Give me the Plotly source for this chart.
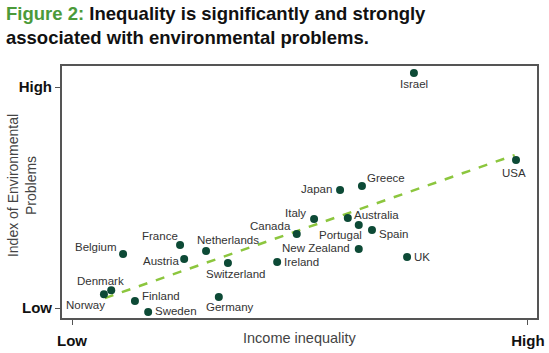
import plotly.graph_objects as go

countries = ["Israel", "USA", "Greece", "Japan", "Italy", "Australia", "Portugal", "Spain",
             "Canada", "New Zealand", "Ireland", "UK", "Belgium", "France", "Netherlands",
             "Austria", "Switzerland", "Denmark", "Norway", "Finland", "Sweden", "Germany"]
income = [0.750, 0.974, 0.636, 0.588, 0.531, 0.605, 0.629, 0.658,
          0.493, 0.629, 0.450, 0.735, 0.112, 0.237, 0.294,
          0.246, 0.342, 0.086, 0.070, 0.138, 0.167, 0.322]
env = [1.063, 0.670, 0.552, 0.534, 0.403, 0.407, 0.376, 0.353,
       0.335, 0.267, 0.208, 0.231, 0.244, 0.285, 0.258,
       0.222, 0.204, 0.081, 0.063, 0.032, -0.018, 0.050]
trend_x = [0.072, 0.971]
trend_y = [0.045, 0.692]
tick_vals = [0, 1]
tick_text = ["Low", "High"]

# label placement: (xanchor, yanchor, xshift, yshift)
label_pos = {
    "Israel": ("center", "middle", 0, -11),
    "USA": ("center", "middle", -2, -13),
    "Greece": ("left", "middle", 3, 8),
    "Japan": ("right", "middle", -6, 1),
    "Italy": ("right", "middle", -6, 6),
    "Australia": ("left", "middle", 4, 3),
    "Portugal": ("right", "middle", 5, -10),
    "Spain": ("left", "middle", 5, -4),
    "Canada": ("right", "middle", -4, 8),
    "New Zealand": ("right", "middle", -7, 1),
    "Ireland": ("left", "middle", 5, 0),
    "UK": ("left", "middle", 5, 0),
    "Belgium": ("right", "middle", -4, 7),
    "France": ("right", "middle", 0, 9),
    "Netherlands": ("left", "middle", -11, 11),
    "Austria": ("right", "middle", -3, -2),
    "Switzerland": ("center", "middle", 8, -11),
    "Denmark": ("center", "middle", -11, 9),
    "Norway": ("right", "middle", 3, -11),
    "Finland": ("left", "middle", 5, 5),
    "Sweden": ("left", "middle", 5, 1),
    "Germany": ("center", "middle", 11, -10),
}

FONT = "Liberation Sans, Arial"

fig = go.Figure()
fig.add_trace(go.Scatter(x=trend_x, y=trend_y, mode="lines",
                         line=dict(color="#8cc63e", width=2.5, dash="dash"),
                         hoverinfo="skip", showlegend=False))
fig.add_trace(go.Scatter(x=income, y=env, mode="markers",
                         marker=dict(color="#0d4a36", size=8),
                         showlegend=False))

annotations = []
for c, xv, yv in zip(countries, income, env):
    xa, ya, xs, ys = label_pos[c]
    annotations.append(dict(x=xv, y=yv, xref="x", yref="y", text=c, showarrow=False,
                            xanchor=xa, yanchor=ya, xshift=xs, yshift=ys,
                            font=dict(family=FONT, size=11.5, color="#333333")))

# Title (placed above the plot area)
annotations.append(dict(
    x=-0.122, y=1.258, xref="paper", yref="paper", xanchor="left", yanchor="top",
    align="left", showarrow=False,
    text="<b><span style='color:#4b9a3a'>Figure 2:</span> Inequality is significantly and strongly<br>associated with environmental problems.</b>",
    font=dict(family=FONT, size=18.5, color="#111111")))

# Y axis title
annotations.append(dict(x=-0.084, y=0.524, xref="paper", yref="paper",
                        text="Index of Environmental<br>Problems", textangle=-90, showarrow=False,
                        font=dict(family=FONT, size=14, color="#444444"),
                        xanchor="center", yanchor="middle"))
# X axis title
annotations.append(dict(x=0.5, y=-0.079, xref="paper", yref="paper",
                        text="Income inequality", showarrow=False,
                        font=dict(family=FONT, size=14.5, color="#444444"),
                        xanchor="center", yanchor="middle"))

fig.update_layout(
    width=549, height=353,
    margin=dict(l=62, r=12, t=66, b=35),
    paper_bgcolor="white", plot_bgcolor="white",
    annotations=annotations,
    xaxis=dict(range=[-0.022, 1.020], tickvals=tick_vals, ticktext=tick_text, automargin=False,
               ticks="outside", ticklen=5, tickcolor="#555555", showgrid=False, zeroline=False,
               showline=True, linecolor="#555555", linewidth=2, mirror=True,
               ticklabelstandoff=3,
               tickfont=dict(family=FONT, size=15, color="#111111", weight="bold")),
    yaxis=dict(range=[-0.045, 1.095], tickvals=tick_vals, ticktext=tick_text, automargin=False,
               ticks="outside", ticklen=5, tickcolor="#555555", showgrid=False, zeroline=False,
               showline=True, linecolor="#555555", linewidth=2, mirror=True,
               tickfont=dict(family=FONT, size=15, color="#111111", weight="bold")),
)

fig.write_html("out.html")
